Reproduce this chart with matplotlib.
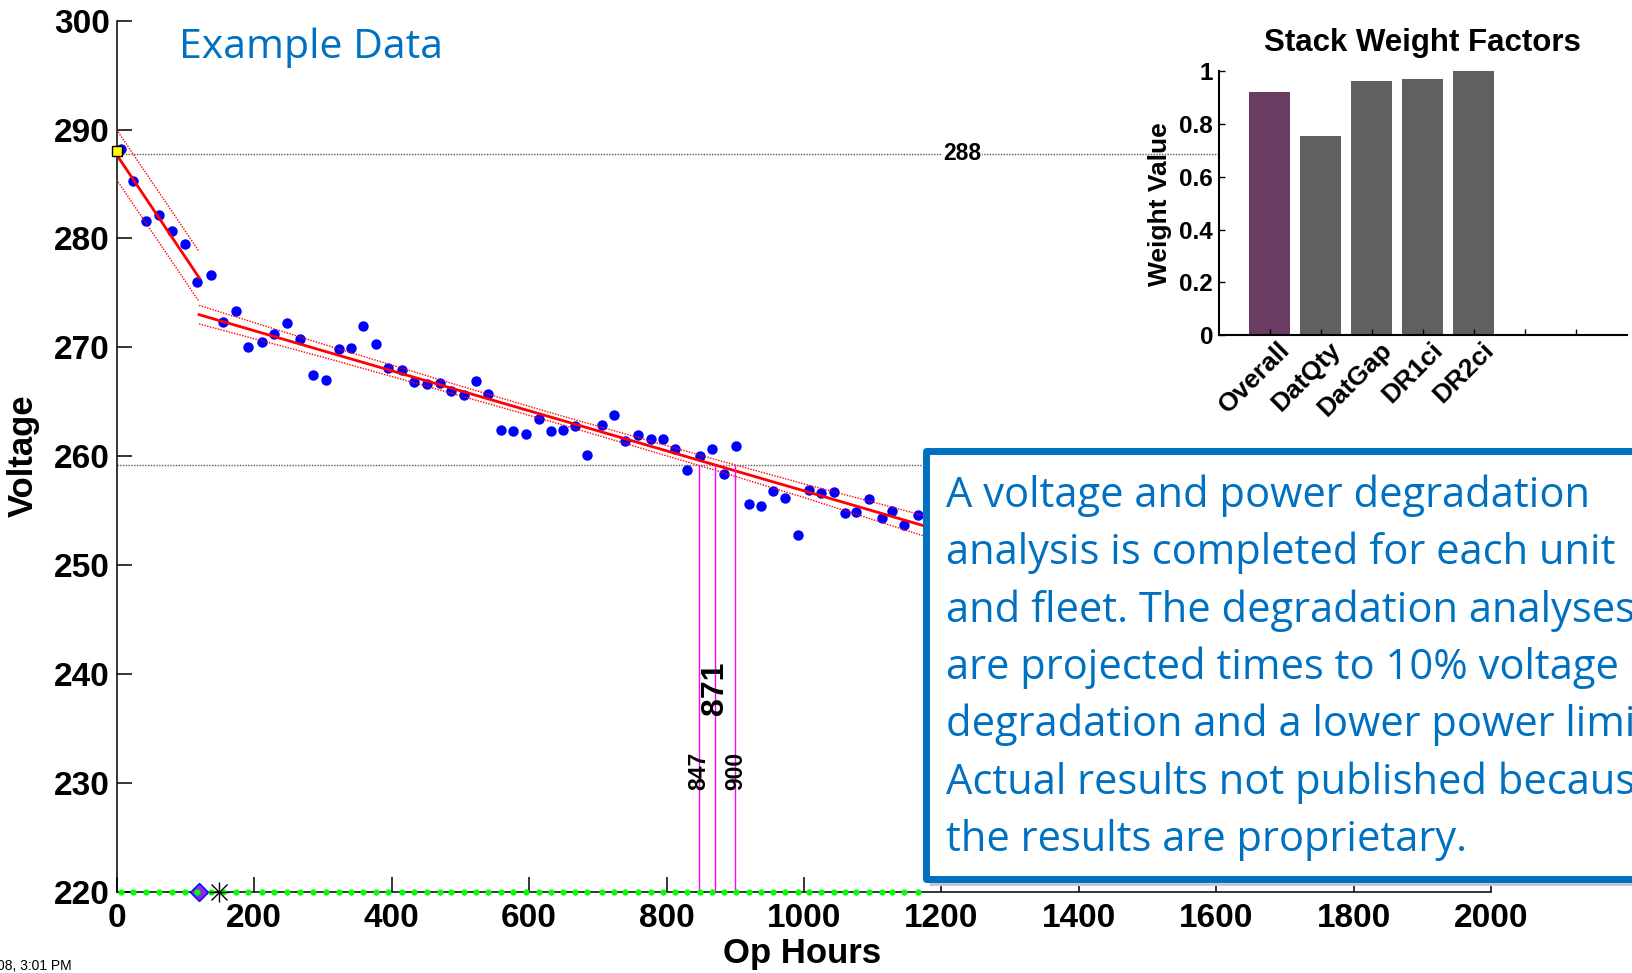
import matplotlib
matplotlib.use('Agg')
import matplotlib.pyplot as plt
from matplotlib.patches import Rectangle
import matplotlib.transforms as mtransforms

plt.rcParams['font.family'] = ['Liberation Sans', 'DejaVu Sans']
plt.rcParams['font.weight'] = 'bold'
plt.rcParams['axes.labelweight'] = 'bold'
plt.rcParams['axes.titleweight'] = 'bold'

# Messpunkte
hours = [7, 24, 43, 61, 80, 100, 117, 137, 155, 174, 191, 211, 229, 248, 267, 285, 305, 323,
         341, 359, 377, 395, 415, 433, 452, 470, 486, 506, 523, 541, 559, 577, 595, 614,
         632, 650, 667, 685, 706, 723, 740, 759, 777, 795, 813, 830, 848, 866, 883, 901,
         920, 938, 955, 973, 991, 1008, 1025, 1043, 1059, 1076, 1094, 1113, 1128, 1146, 1166]
volts = [288.2, 285.3, 281.6, 282.2, 280.7, 279.5, 276.0, 276.6, 272.3, 273.3, 270.0, 270.5,
         271.2, 272.2, 270.8, 267.5, 267.0, 269.8, 269.9, 272.0, 270.3, 268.1, 267.9, 266.8,
         266.6, 266.7, 266.0, 265.6, 266.9, 265.7, 262.4, 262.3, 262.0, 263.4, 262.3, 262.4,
         262.8, 260.1, 262.9, 263.8, 261.4, 261.9, 261.6, 261.6, 260.7, 258.7, 260.0, 260.7,
         258.4, 260.9, 255.6, 255.4, 256.8, 256.2, 252.8, 256.9, 256.6, 256.7, 254.8, 254.9,
         256.1, 254.3, 255.0, 253.7, 254.6]

# Regressionsgeraden mit Vertrauensband
fit1_x = [0, 120]
fit1_y = [287.7, 276.4]
fit1_hi = [290.0, 278.8]
fit1_lo = [285.4, 274.2]

fit2_x = [120, 1180]
fit2_y = [273.0, 253.5]
band2_x = [120, 300, 500, 650, 871, 1000, 1180]
band2_hi = [273.85, 270.3, 266.45, 263.65, 259.7, 257.45, 254.45]
band2_lo = [272.15, 269.1, 265.55, 262.85, 258.7, 256.2, 252.55]

start_hours = [0]
start_volts = [288]
ref_volts = 287.8
limit_volts = 259.2
cross_hours = [847, 871, 900]
cross_labels = ['847', '871', '900']
cross_label_y = [229.3, 236.2, 229.3]
diamond_hours = [120]
star_hours = [149]
floor_volts = 220

weight_names = ['Overall', 'DatQty', 'DatGap', 'DR1ci', 'DR2ci', '', '']
weight_values = [0.92, 0.755, 0.96, 0.97, 1.0, 0, 0]
weight_colors = ['#6a3c62', '#606060', '#606060', '#606060', '#606060', '#606060', '#606060']

box_lines = ["A voltage and power degradation",
             "analysis is completed for each unit",
             "and fleet. The degradation analyses",
             "are projected times to 10% voltage",
             "degradation and a lower power limit.",
             "Actual results not published because",
             "the results are proprietary."]

W, H = 1633, 973
fig = plt.figure(figsize=(W / 100, H / 100), dpi=100)

# Hauptdiagramm
ax = fig.add_axes([116.6 / W, 1 - 891.5 / H, (1491.4 - 116.6) / W, (891.5 - 20.8) / H])
ax.set_xlim(0, 2000)
ax.set_ylim(220, 300)
ax.set_xticks(range(0, 2001, 200))
ax.set_yticks(range(220, 301, 10))
for s in ['top', 'right']:
    ax.spines[s].set_visible(False)
for s in ['left', 'bottom']:
    ax.spines[s].set_linewidth(1.1)
ax.tick_params(direction='in', length=11, width=1.1, labelsize=24)
ax.tick_params(axis='x', pad=8)
ax.tick_params(axis='y', pad=5)

ax.axhline(ref_volts, color='0.35', ls=(0, (1, 1)), lw=1.0, zorder=1)
ax.axhline(limit_volts, color='0.35', ls=(0, (1, 1)), lw=1.0, zorder=1)

ax.plot(hours, volts, 'o', color='#0000ff', ms=7.5, mec='none', zorder=3)

ax.plot(fit1_x, fit1_y, color='red', lw=2, zorder=4)
ax.plot(fit1_x, fit1_hi, color='red', lw=1.0, ls=(0, (1, 1)), zorder=4)
ax.plot(fit1_x, fit1_lo, color='red', lw=1.0, ls=(0, (1, 1)), zorder=4)
ax.plot(fit2_x, fit2_y, color='red', lw=2, zorder=4)
ax.plot(band2_x, band2_hi, color='red', lw=1.0, ls=(0, (1, 1)), zorder=4)
ax.plot(band2_x, band2_lo, color='red', lw=1.0, ls=(0, (1, 1)), zorder=4)

ax.vlines(cross_hours, floor_volts, limit_volts, color='magenta', lw=1.0, zorder=5)
for hx, lab, ly in zip(cross_hours, cross_labels, cross_label_y):
    big = lab == '871'
    ax.text(hx, ly, lab, rotation=90, ha='center', va='bottom',
            fontsize=23 if big else 16.5, fontweight='bold', zorder=6)

ax.text(1230, ref_volts, '288', ha='center', va='center', fontsize=16.5, zorder=6,
        bbox=dict(fc='white', ec='none', pad=0.5))

ax.plot(start_hours, start_volts, 's', color='yellow', mec='black', mew=1, ms=7,
        zorder=7, clip_on=False)
ax.plot(diamond_hours, [floor_volts] * len(diamond_hours), 'D', color='#8a2be2',
        mec='#0000ff', mew=1, ms=9, zorder=7, clip_on=False)
ax.plot(hours, [floor_volts] * len(hours), 'o', color='#00ff00', ms=4.5, mec='none',
        zorder=8, clip_on=False)
ax.plot(star_hours, [floor_volts] * len(star_hours), '+', color='black', ms=15, mew=1,
        zorder=9, clip_on=False)
ax.plot(star_hours, [floor_volts] * len(star_hours), 'x', color='black', ms=11, mew=1,
        zorder=9, clip_on=False)

ax.set_xlabel('Op Hours', fontsize=25, va='top')
ax.xaxis.set_label_coords(0.4985, -0.052)
ax.set_ylabel('Voltage', fontsize=25)
ax.yaxis.set_label_coords(-0.056, 0.5)

# Gewichtsfaktoren (Einschub)
ax2 = fig.add_axes([1218.6 / W, 1 - 335.4 / H, (1626.8 - 1218.6) / W, (335.4 - 70.8) / H])
ax2.set_facecolor('white')
pos = list(range(1, len(weight_values) + 1))
ax2.bar(pos, weight_values, width=0.8, color=weight_colors)
ax2.set_xlim(0, 8)
ax2.set_ylim(0, 1)
ax2.set_xticks(pos)
ax2.set_yticks([0, 0.2, 0.4, 0.6, 0.8, 1])
ax2.set_yticklabels(['0', '0.2', '0.4', '0.6', '0.8', '1'])
for s in ['top', 'right']:
    ax2.spines[s].set_visible(False)
for s in ['left', 'bottom']:
    ax2.spines[s].set_linewidth(1.5)
ax2.tick_params(direction='in', length=4, width=1, labelsize=17.5)
ax2.tick_params(axis='y', pad=4)
ax2.set_xticklabels(weight_names, rotation=45, ha='right', va='center',
                    rotation_mode='anchor', fontsize=19)
off = mtransforms.ScaledTranslation(12 / 72, -4 / 72, fig.dpi_scale_trans)
for lab in ax2.get_xticklabels():
    lab.set_transform(lab.get_transform() + off)
ax2.set_title('Stack Weight Factors', fontsize=22.5, pad=14)
ax2.set_ylabel('Weight Value', fontsize=19)
ax2.yaxis.set_label_coords(-0.115, 0.497)

# Textfeld
blue = '#0070c0'
x0, y0 = 926.5 / W, 1 - 878.5 / H
bw, bh = 1.1, (878.5 - 451.5) / H
fig.add_artist(Rectangle((x0 + 2.5 / W, y0 - 3 / H), bw, bh, transform=fig.transFigure,
                         fc='none', ec='0.78', lw=5, zorder=9))
fig.add_artist(Rectangle((x0, y0), bw, bh, transform=fig.transFigure,
                         fc='white', ec=blue, lw=5, joinstyle='round', zorder=10))
for i, line in enumerate(box_lines):
    fig.text(946 / W, 1 - (507 + 57.3 * i) / H, line, fontsize=30, family='Open Sans',
             fontweight='normal', color=blue, va='baseline', zorder=11)

fig.text(179 / W, 1 - 58 / H, 'Example Data', fontsize=29.5, family='Open Sans',
         fontweight='normal', color=blue, va='baseline')
fig.text(-3 / W, 3 / H, '08, 3:01 PM', fontsize=10, fontweight='normal', va='baseline')

fig.savefig('out.png', dpi=100)
